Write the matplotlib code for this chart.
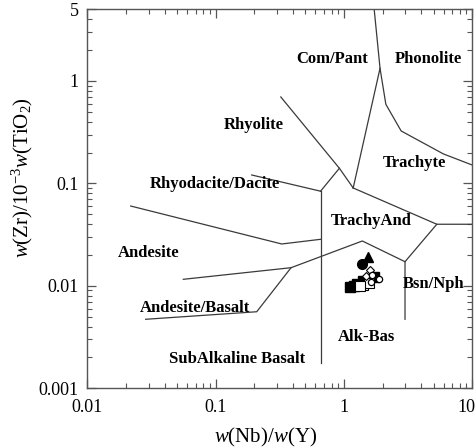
import matplotlib
matplotlib.use("Agg")
import matplotlib.pyplot as plt
from matplotlib.ticker import LogLocator, NullFormatter, FixedLocator, FixedFormatter
from matplotlib.transforms import ScaledTranslation

plt.rcParams['font.family'] = ['Liberation Serif', 'DejaVu Serif']
plt.rcParams['mathtext.fontset'] = 'custom'
plt.rcParams['mathtext.rm'] = 'Liberation Serif'
plt.rcParams['mathtext.it'] = 'Liberation Serif:italic'

# field boundaries (Nb/Y, Zr/TiO2)
phon_x = [1.72, 1.91, 2.12, 2.79, 5.95, 10.0]
phon_y = [5.0, 1.33, 0.592, 0.325, 0.194, 0.151]
compant_x = [1.91, 1.18]
compant_y = [1.33, 0.0902]
rhyol_x = [0.322, 0.921, 1.18]
rhyol_y = [0.698, 0.1405, 0.0902]
branch_x = [0.921, 0.657]
branch_y = [0.1405, 0.0839]
rhyod_x = [0.191, 0.657]
rhyod_y = [0.1208, 0.0839]
vert_x = [0.657, 0.657]
vert_y = [0.0839, 0.00176]
trand_x = [1.18, 5.29, 10.0]
trand_y = [0.0902, 0.0399, 0.0399]
bsn_x = [5.29, 2.99, 2.99]
bsn_y = [0.0399, 0.01719, 0.00471]
alk_x = [2.99, 1.39, 0.387, 0.056]
alk_y = [0.01719, 0.02739, 0.01502, 0.01157]
andbas_x = [0.387, 0.209, 0.0285]
andbas_y = [0.01502, 0.00558, 0.00471]
andes_x = [0.0218, 0.3275, 0.657]
andes_y = [0.0601, 0.0256, 0.02844]

boundaries = [
    (phon_x, phon_y), (compant_x, compant_y), (rhyol_x, rhyol_y),
    (branch_x, branch_y), (rhyod_x, rhyod_y), (vert_x, vert_y),
    (trand_x, trand_y), (bsn_x, bsn_y), (alk_x, alk_y),
    (andbas_x, andbas_y), (andes_x, andes_y),
]

# field names and where they sit
field_names = ["Com/Pant", "Phonolite", "Rhyolite", "Trachyte", "Rhyodacite/Dacite",
               "TrachyAnd", "Andesite", "Andesite/Basalt", "Bsn/Nph", "Alk-Bas",
               "SubAlkaline Basalt"]
field_x = [0.804, 4.55, 0.199, 3.52, 0.0984, 1.618, 0.0299, 0.0691, 4.98, 1.486, 0.148]
field_y = [1.63, 1.63, 0.372, 0.157, 0.0987, 0.0430, 0.0208, 0.00603, 0.01034, 0.00318, 0.00191]

# samples
sq_x = [1.116, 1.253, 1.409, 1.716, 1.20]
sq_y = [0.00973, 0.0103, 0.01114, 0.01219, 0.00995]
osq_x = [1.418, 1.555, 1.33]
osq_y = [0.01018, 0.01053, 0.00985]
circ_x = [1.371]
circ_y = [0.01633]
tri_x = [1.549]
tri_y = [0.01897]
dia_x = [1.486, 1.597]
dia_y = [0.01247, 0.01427]
small_x = [1.656, 1.861, 1.62]
small_y = [0.01275, 0.01152, 0.01100]

fig = plt.figure(figsize=(4.77, 4.48), dpi=100)
ax = fig.add_axes([87.3 / 477, 1 - 388.2 / 448, 385 / 477, 378.8 / 448])
ax.set_xscale('log')
ax.set_yscale('log')
ax.set_xlim(0.01, 10)
ax.set_ylim(0.001, 5)

for bx, by in boundaries:
    ax.plot(bx, by, color='#3a3a3a', lw=0.9)

for name, tx, ty in zip(field_names, field_x, field_y):
    ax.text(tx, ty, name, ha='center', va='center', fontsize=12, fontweight='bold')

ax.plot(sq_x, sq_y, 's', color='black', ms=7, mec='black')
ax.plot(osq_x, osq_y, 's', color='white', ms=6.5, mec='black', mew=0.8)
ax.plot(circ_x, circ_y, 'o', color='black', ms=7)
ax.plot(tri_x, tri_y, '^', color='black', ms=7)
ax.plot(dia_x, dia_y, 'D', color='white', ms=4.5, mec='black', mew=0.8)
ax.plot(small_x, small_y, 'o', color='white', ms=4.5, mec='black', mew=0.9)

ax.xaxis.set_major_locator(FixedLocator([0.01, 0.1, 1, 10]))
ax.xaxis.set_major_formatter(FixedFormatter(['0.01', '0.1', '1', '10']))
ax.yaxis.set_major_locator(FixedLocator([0.001, 0.01, 0.1, 1, 5]))
ax.yaxis.set_major_formatter(FixedFormatter(['0.001', '0.01', '0.1', '1', '5']))
for axis in (ax.xaxis, ax.yaxis):
    axis.set_minor_locator(LogLocator(base=10, subs=range(2, 10), numticks=20))
    axis.set_minor_formatter(NullFormatter())

ax.tick_params(which='both', direction='in', top=True, right=True,
               color='#555555', labelsize=13)
ax.tick_params(axis='x', which='major', pad=8)
ax.tick_params(axis='y', which='major', pad=6)
ax.tick_params(which='major', length=6.5, width=0.9)
ax.tick_params(which='minor', length=3.5, width=0.8)
for sp in ax.spines.values():
    sp.set_color('#555555')
    sp.set_linewidth(1.0)

# keep the last x tick label inside the figure
fig.canvas.draw()
last = ax.get_xticklabels()[-1]
last.set_transform(last.get_transform() + ScaledTranslation(-6 / 100, 0, fig.dpi_scale_trans))

fig.text(266 / 477, 1 - 437 / 448, r'$\mathit{w}$(Nb)/$\mathit{w}$(Y)',
         ha='center', va='center', fontsize=15)
fig.text(22 / 477, 1 - 178 / 448, r'$\mathit{w}$(Zr)/10$^{-3}$$\mathit{w}$(TiO$_2$)',
         ha='center', va='center', fontsize=15, rotation=90)

fig.savefig('out.png', dpi=100)
